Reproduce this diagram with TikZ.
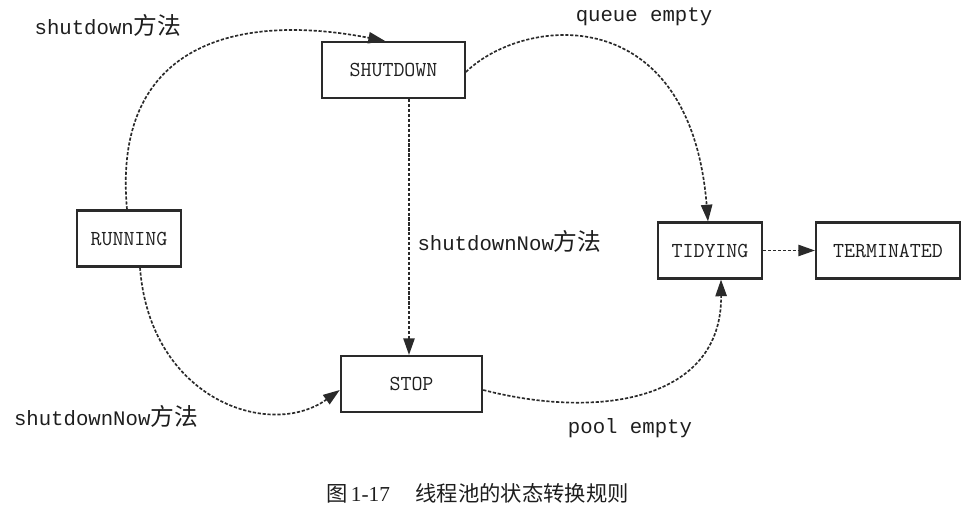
\documentclass[tikz,border=0pt]{standalone}
\usepackage{fontspec}
\newfontfamily\lblfont{Liberation Mono}
\newfontfamily\cjk[Scale=1.15]{Noto Sans CJK SC}
\newfontfamily\capcjk{Noto Sans CJK SC}
\newfontfamily\capserif{Liberation Serif}
\usetikzlibrary{arrows.meta,calc}
\definecolor{boxc}{HTML}{2A2A2A}
\definecolor{linec}{HTML}{2A2A2A}
\definecolor{txt}{HTML}{1E1E1E}
\begin{document}
\begin{tikzpicture}[x=0.75pt,y=-0.75pt,
  state/.style={draw=boxc, line width=1.6pt, fill=white, minimum height=42pt, inner sep=0pt,
    font=\ttfamily\fontsize{16}{18}\selectfont, text=txt},
  flow/.style={draw=linec, line width=1.25pt, dash pattern=on 2.4pt off 1.3pt,
    -{Triangle[length=12.5pt,width=8.5pt]}},
  lbl/.style={font=\lblfont\fontsize{15.5}{18}\selectfont, text=txt, inner sep=0pt}]
\useasboundingbox (0,0) rectangle (965,520);

\node[state, minimum width=107pt] (shutdown) at (393.5,70) {SHUTDOWN};
\node[state, minimum width=78pt] (running) at (129,238.5) {RUNNING};
\node[state, minimum width=106pt] (stop) at (411.5,384) {STOP};
\node[state, minimum width=78pt] (tidying) at (710,250.5) {TIDYING};
\node[state, minimum width=108pt] (terminated) at (888,250.5) {TERMINATED};

\draw[flow] ($(running.north)+(-2,0)$) .. controls (112,45) and (235,12) .. ($(shutdown.north)+(-8.5,0)$);
\draw[flow] ($(shutdown.east)+(0,2)$) .. controls (525,15) and (690,0) .. ($(tidying.north)+(-2,0)$);
\draw[flow] ($(shutdown.south)+(15.5,0)$) -- ($(stop.north)+(-2.5,0)$);
\draw[flow] ($(running.south)+(11,0)$) .. controls (150,400) and (270,440) .. ($(stop.west)+(0,6)$);
\draw[flow] ($(stop.east)+(0,6)$) .. controls (600,420) and (722,400) .. ($(tidying.south)+(11,0)$);
\draw[flow] (tidying) -- (terminated);

\node[lbl] (l1) at (108,25) {shutdown{\cjk 方法}};
\node[lbl] (l2) at (644,17) {queue empty};
\node[lbl] (l3) at (509.5,241) {shutdownNow{\cjk 方法}};
\node[lbl] (l4) at (106,416) {shutdownNow{\cjk 方法}};
\node[lbl] (l5) at (630,428) {pool empty};
\node[text=txt, inner sep=0pt, font=\fontsize{16}{18}\selectfont] (cap) at (477.5,493)
  {{\capcjk 图}\,{\capserif 1-17}\hspace{1.2em}{\capcjk 线程池的状态转换规则}};
\end{tikzpicture}
\end{document}
